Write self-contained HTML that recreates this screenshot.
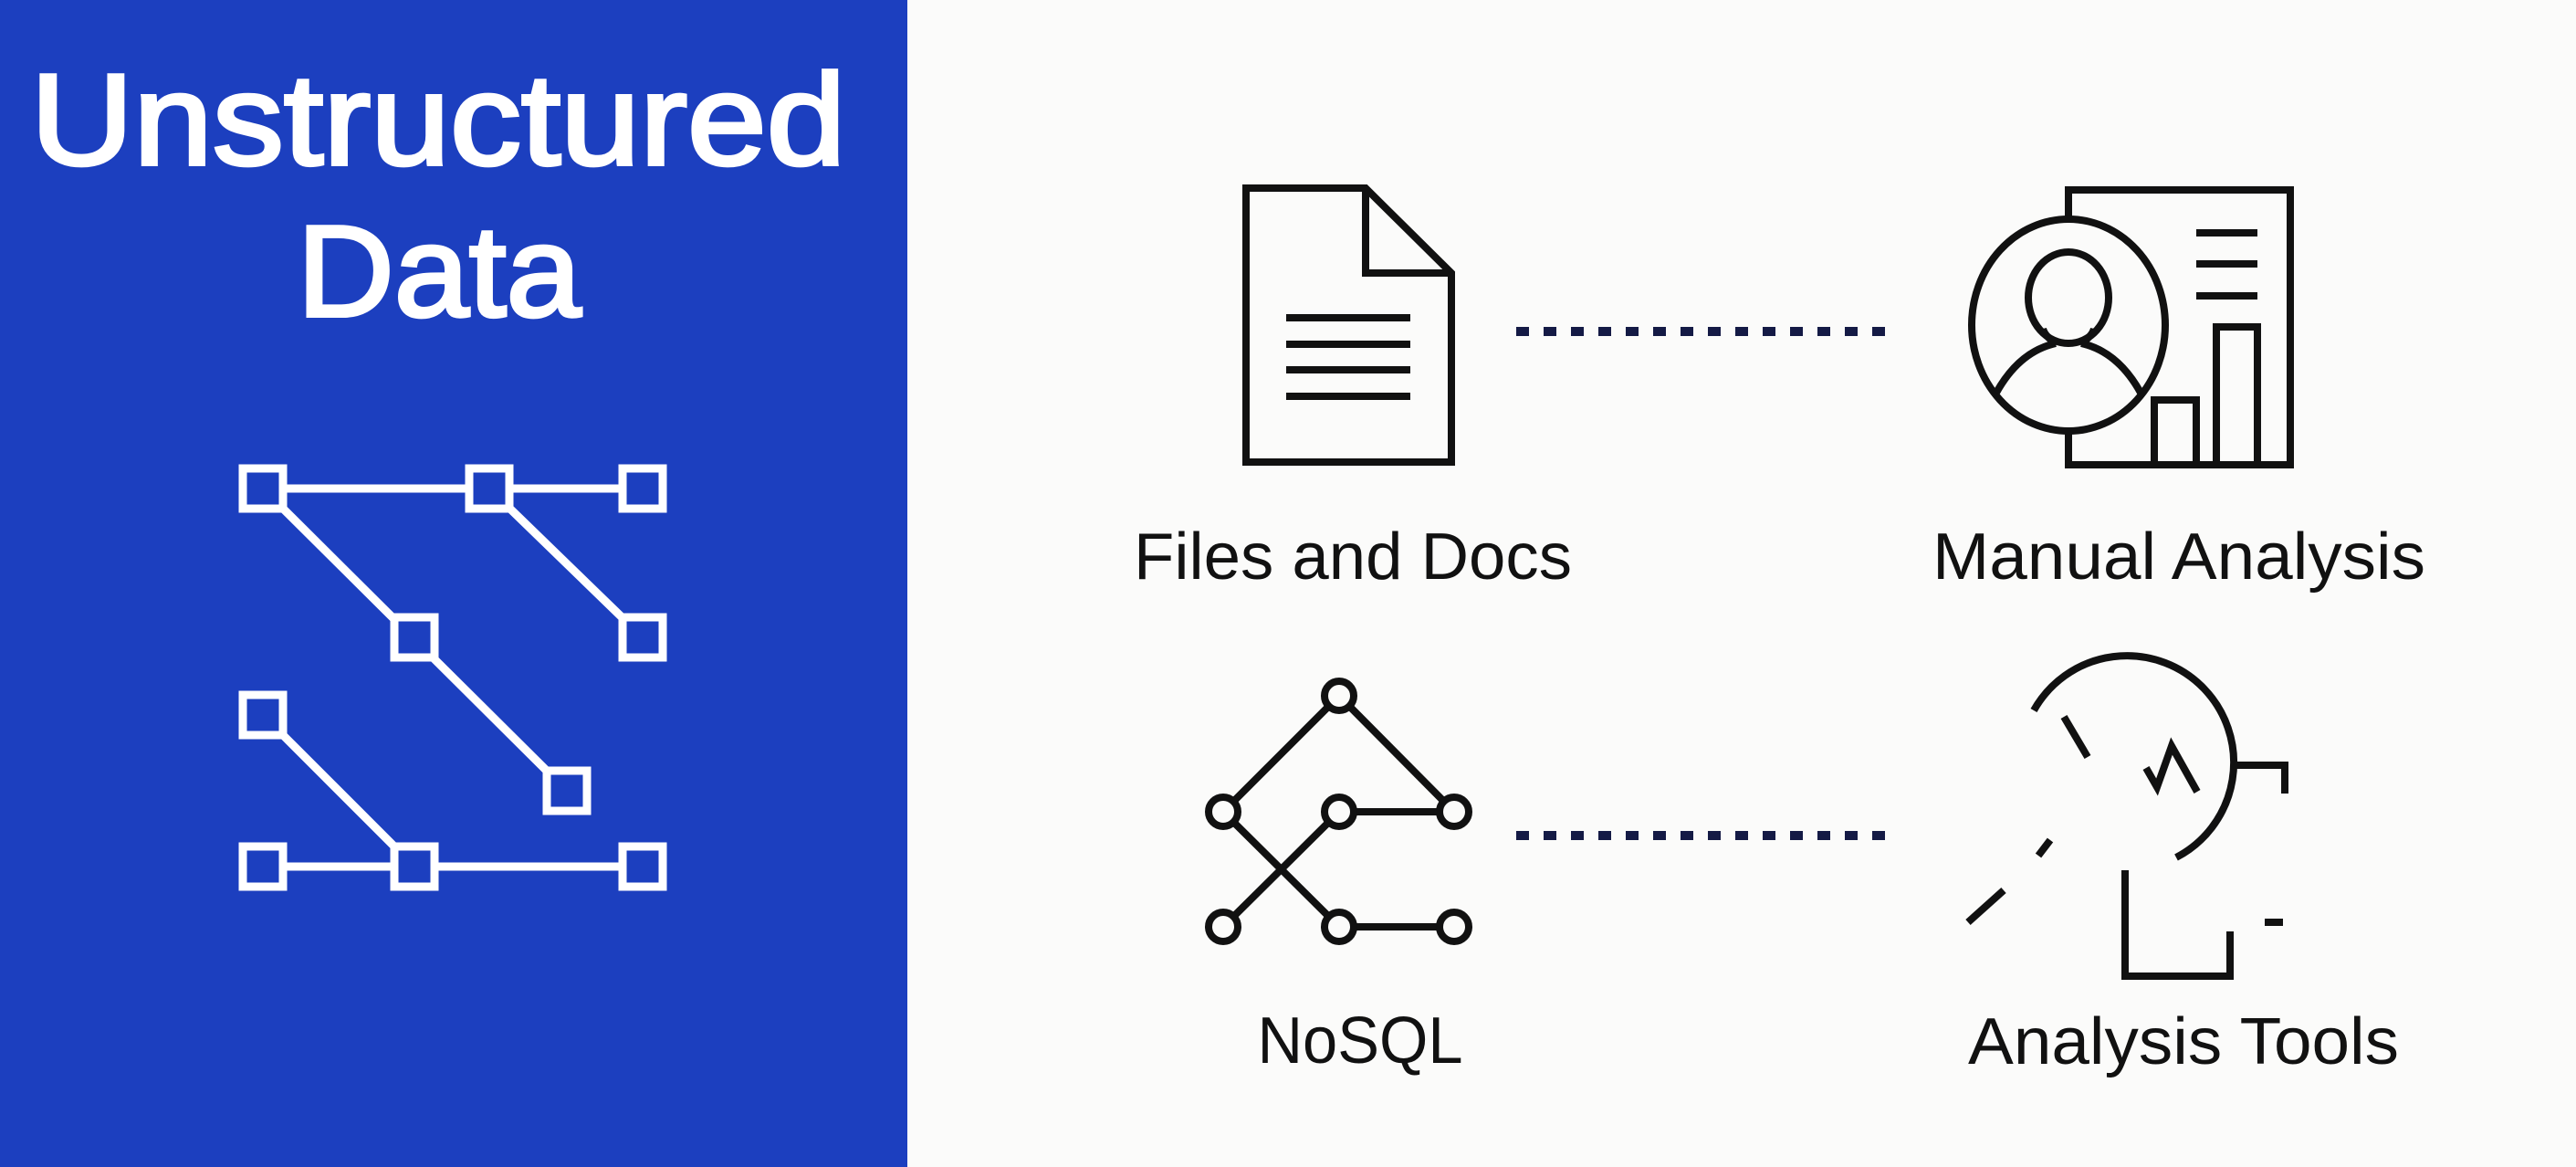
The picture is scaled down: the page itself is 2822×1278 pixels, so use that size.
<!DOCTYPE html>
<html><head><meta charset="utf-8"><style>
html,body{margin:0;padding:0;background:#fbfbfa;}
svg{display:block}
</style></head><body>
<svg width="2822" height="1278" viewBox="0 0 2822 1278" xmlns="http://www.w3.org/2000/svg">
<rect x="0" y="0" width="2822" height="1278" fill="#fbfbfa"/>
<rect x="0" y="0" width="994" height="1278" fill="#1c3fbf"/>
<g font-family="Liberation Sans, sans-serif" fill="#fff" text-anchor="middle" stroke="#fff" stroke-width="4">
<text x="480" y="180" font-size="142" textLength="893" lengthAdjust="spacingAndGlyphs">Unstructured</text>
<text x="481" y="346" font-size="142" textLength="311" lengthAdjust="spacingAndGlyphs">Data</text>
</g>
<g stroke="#fff" stroke-width="9" fill="none">
<line x1="288" y1="535" x2="704" y2="535"/>
<line x1="288" y1="535" x2="621" y2="866"/>
<line x1="536" y1="535" x2="704" y2="698"/>
<line x1="288" y1="783" x2="454" y2="949"/>
<line x1="288" y1="949" x2="704" y2="949"/>
<g fill="#1c3fbf">
<rect x="266" y="513" width="44" height="44"/>
<rect x="514" y="513" width="44" height="44"/>
<rect x="682" y="513" width="44" height="44"/>
<rect x="432" y="676" width="44" height="44"/>
<rect x="682" y="676" width="44" height="44"/>
<rect x="266" y="761" width="44" height="44"/>
<rect x="599" y="844" width="44" height="44"/>
<rect x="266" y="927" width="44" height="44"/>
<rect x="432" y="927" width="44" height="44"/>
<rect x="682" y="927" width="44" height="44"/>
</g>
</g>
<!-- doc icon -->
<g stroke="#111" stroke-width="8" fill="none" stroke-linejoin="miter">
<path d="M1365 206 H1496 L1590 299 V506 H1365 Z"/>
<path d="M1496 206 V299 H1590"/>
<line x1="1409" y1="348" x2="1545" y2="348"/>
<line x1="1409" y1="377" x2="1545" y2="377"/>
<line x1="1409" y1="405" x2="1545" y2="405"/>
<line x1="1409" y1="434" x2="1545" y2="434"/>
</g>
<!-- dotted connectors -->
<g stroke="#141a45" stroke-width="10" stroke-dasharray="14 16">
<line x1="1661" y1="363" x2="2068" y2="363"/>
<line x1="1661" y1="915" x2="2068" y2="915"/>
</g>
<!-- manual analysis -->
<g stroke="#111" stroke-width="8" fill="none">
<path d="M2266 240 V208 H2509 V509 H2266 V472"/>
<ellipse cx="2266" cy="356" rx="106" ry="116"/>
<ellipse cx="2266" cy="326" rx="44" ry="50"/>
<path d="M2187 430 Q2212 385 2252 376 M2345 430 Q2320 385 2280 376"/>
<path d="M2252 376 Q2240 368 2238 360 M2280 376 Q2292 368 2294 360"/>
<line x1="2406" y1="255" x2="2473" y2="255"/>
<line x1="2406" y1="289" x2="2473" y2="289"/>
<line x1="2406" y1="324" x2="2473" y2="324"/>
<path d="M2360 509 V438 H2406 V509"/>
<path d="M2428 509 V358 H2473 V509"/>
</g>
<!-- nosql -->
<g stroke="#111" stroke-width="8" fill="none">
<line x1="1467" y1="762" x2="1340" y2="889"/>
<line x1="1467" y1="762" x2="1593" y2="889"/>
<line x1="1467" y1="889" x2="1593" y2="889"/>
<line x1="1340" y1="889" x2="1467" y2="1015"/>
<line x1="1467" y1="889" x2="1340" y2="1015"/>
<line x1="1467" y1="1015" x2="1593" y2="1015"/>
<g fill="#fbfbfa">
<circle cx="1467" cy="762" r="16"/>
<circle cx="1340" cy="889" r="16"/>
<circle cx="1467" cy="889" r="16"/>
<circle cx="1593" cy="889" r="16"/>
<circle cx="1340" cy="1015" r="16"/>
<circle cx="1467" cy="1015" r="16"/>
<circle cx="1593" cy="1015" r="16"/>
</g>
</g>
<!-- analysis tools -->
<g stroke="#111" stroke-width="8" fill="none">
<path d="M2228 778 A117 117 0 1 1 2384 939"/>
<path d="M2447 838 H2503 V869"/>
<line x1="2261" y1="785" x2="2287" y2="829"/>
<path d="M2351 841 L2363 862 L2379 817 L2407 867"/>
<line x1="2246" y1="920" x2="2233" y2="937"/>
<line x1="2195" y1="975" x2="2156" y2="1010"/>
<path d="M2328 953 V1069 H2443 V1020"/>
<line x1="2481" y1="1010" x2="2501" y2="1010"/>
</g>
<g font-family="Liberation Sans, sans-serif" fill="#111" font-size="72" text-anchor="middle">
<text x="1482" y="634" textLength="480" lengthAdjust="spacingAndGlyphs">Files and Docs</text>
<text x="2387" y="634" textLength="540" lengthAdjust="spacingAndGlyphs">Manual Analysis</text>
<text x="1490" y="1164" textLength="225" lengthAdjust="spacingAndGlyphs">NoSQL</text>
<text x="2392" y="1165" textLength="472" lengthAdjust="spacingAndGlyphs">Analysis Tools</text>
</g>
</svg>
</body></html>
